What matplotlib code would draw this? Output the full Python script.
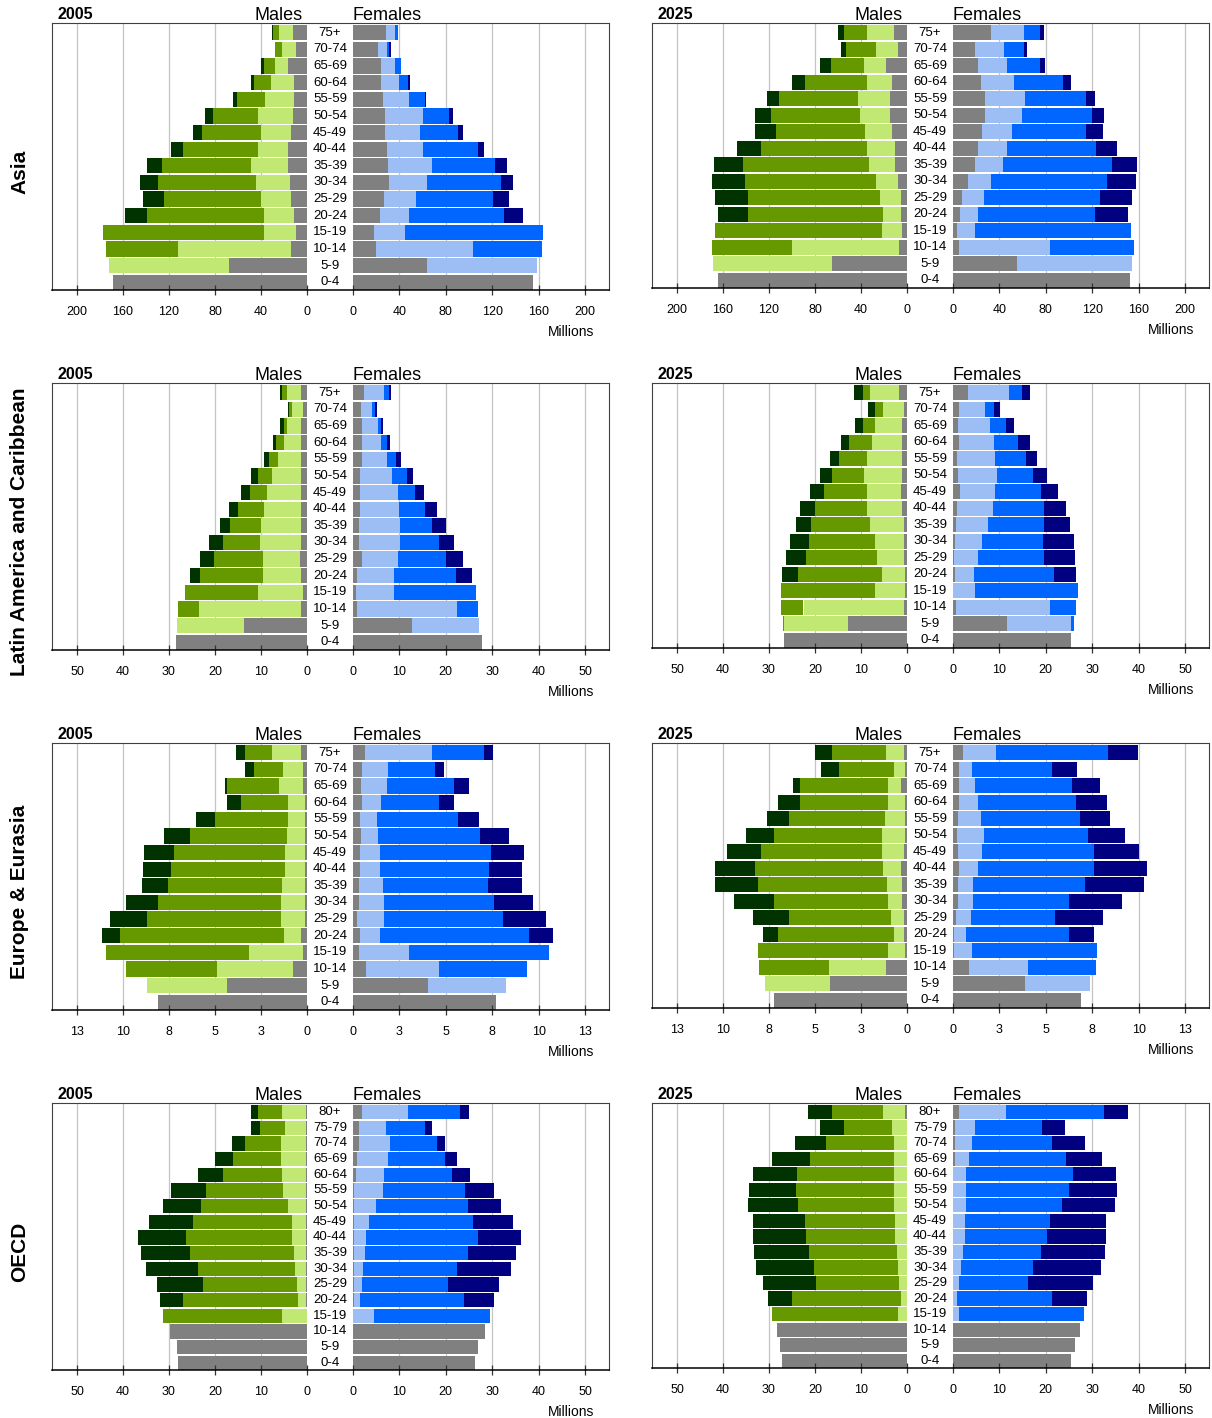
import numpy as np
import matplotlib.pyplot as plt
import matplotlib.transforms as mtransforms

plt.rcParams['font.family'] = ['Liberation Sans', 'DejaVu Sans']

# age groups, oldest at the top
ages = ['75+', '70-74', '65-69', '60-64', '55-59', '50-54', '45-49', '40-44',
        '35-39', '30-34', '25-29', '20-24', '15-19', '10-14', '5-9', '0-4']
ages_oecd = ['80+'] + ['75-79'] + ages[1:]

# grey / light / medium / dark, from the centre outward
male_colors = ['#808080', '#c0e873', '#669900', '#003300']
female_colors = ['#808080', '#9dbef5', '#0066ff', '#000080']

# running totals (millions) for each age group, innermost segment first
asia05_m = [(12.4, 24.5, 29.7, 30.3), (9.6, 21.7, 27.9), (16.7, 27.9, 37.5, 39.9),
            (11.5, 31.3, 46.1, 48.6), (11.5, 36.5, 60.7, 64.4), (12.4, 42.7, 81.7, 88.5),
            (13.9, 39.9, 91.0, 99.1), (16.7, 42.7, 107.7, 118.0), (16.7, 48.6, 125.7, 138.7),
            (14.9, 44.3, 129.4, 144.9), (13.9, 39.9, 124.1, 142.4), (11.5, 37.5, 138.7, 157.9),
            (9.6, 37.5, 177.1), (13.9, 112.1, 175.2), (67.8, 171.8), (169.0,)]
asia05_f = [(28.7, 36.4, 38.9), (21.6, 29.6, 30.9, 32.7), (24.4, 36.4, 41.7),
            (24.4, 39.8, 47.5, 49.4), (25.9, 48.5, 61.7, 63.3), (27.8, 60.5, 83.0, 85.8),
            (27.8, 58.0, 90.1, 94.4), (29.6, 60.5, 107.4, 113.3), (30.2, 68.5, 122.8, 132.4),
            (31.2, 64.2, 127.2, 137.7), (26.9, 54.6, 120.4, 134.9), (23.5, 48.5, 130.6, 146.3),
            (18.2, 45.1, 163.6), (20.1, 103.1, 162.7), (64.2, 158.3), (155.6,)]
asia25_m = [(11.2, 34.8, 54.7, 59.6), (7.8, 26.7, 52.8, 57.1), (18.3, 37.3, 65.8, 75.5),
            (13.0, 34.8, 89.1, 99.7), (14.6, 42.5, 110.9, 122.0), (14.6, 40.7, 118.6, 132.6),
            (13.0, 36.3, 114.3, 132.6), (10.2, 34.8, 127.3, 148.1), (10.2, 32.9, 142.9, 168.0),
            (7.8, 26.7, 141.3, 169.9), (5.3, 23.3, 138.5, 167.1), (5.3, 20.8, 138.5, 164.6),
            (4.3, 21.7, 167.1), (6.8, 99.7, 169.9), (64.9, 168.9), (164.6,)]
asia25_f = [(32.9, 61.4, 75.3, 78.8), (19.2, 44.0, 61.4, 64.2), (21.7, 46.8, 75.3, 79.7),
            (24.2, 52.7, 95.2, 102.0), (27.6, 62.3, 115.0, 122.8), (27.6, 59.8, 119.4, 129.9),
            (25.1, 51.2, 115.0, 129.0), (21.7, 46.8, 123.7, 141.1), (19.2, 43.4, 136.7, 158.4),
            (13.0, 32.9, 132.4, 157.5), (7.8, 27.0, 127.1, 154.1), (6.2, 21.7, 122.8, 150.7),
            (3.4, 19.2, 153.2), (5.3, 84.0, 155.7), (55.5, 154.1), (152.2,)]

lac05_m = [(1.3, 4.3, 5.4, 5.9), (0.9, 3.3, 3.9, 4.2), (1.3, 4.3, 5.0, 5.9),
           (1.3, 5.0, 6.7, 7.4), (1.3, 6.3, 8.3, 9.4), (1.3, 7.6, 10.7, 12.2),
           (1.3, 8.7, 12.4, 14.3), (1.3, 9.4, 15.0, 17.0), (1.3, 10.0, 16.7, 18.9),
           (1.3, 10.2, 18.3, 21.3), (1.5, 9.6, 20.2, 23.2), (1.3, 9.6, 23.2, 25.4),
           (0.9, 10.7, 26.5), (1.3, 23.5, 28.0), (13.7, 28.2), (28.4,)]
lac05_f = [(2.4, 6.7, 7.8, 8.2), (1.8, 4.2, 4.8, 5.2), (2.0, 5.4, 6.1, 6.5),
           (2.0, 6.1, 7.4, 8.0), (2.0, 7.4, 9.3, 10.4), (1.5, 8.5, 11.7, 12.9),
           (1.5, 9.7, 13.4, 15.3), (1.5, 9.9, 15.6, 18.0), (1.3, 10.2, 17.1, 20.1),
           (1.3, 10.2, 18.6, 21.8), (2.0, 9.7, 20.1, 23.7), (0.9, 8.9, 22.3, 25.7),
           (0.7, 8.9, 26.6), (0.9, 22.5, 27.0), (12.8, 27.2), (27.7,)]
lac25_m = [(1.7, 8.0, 9.5, 11.5), (0.6, 5.2, 6.9, 8.4), (1.1, 6.9, 9.5, 11.2),
           (1.1, 7.6, 12.6, 14.3), (1.1, 8.7, 14.7, 16.7), (1.1, 9.3, 16.4, 19.0),
           (1.3, 8.7, 18.1, 21.0), (1.1, 8.7, 20.1, 23.3), (0.6, 8.0, 20.8, 24.2),
           (0.6, 6.9, 21.4, 25.5), (0.6, 6.5, 21.9, 26.4), (0.5, 5.4, 23.6, 27.1),
           (0.5, 6.9, 27.4), (0.6, 22.5, 27.4), (12.8, 26.8, 27.0), (26.8,)]
lac25_f = [(3.3, 12.1, 14.8, 16.5), (1.3, 6.8, 8.9, 10.2), (1.1, 8.0, 11.5, 13.2),
           (1.3, 8.9, 14.1, 16.5), (0.9, 9.1, 15.8, 18.2), (1.1, 9.5, 17.2, 20.3),
           (1.6, 9.1, 18.9, 22.7), (0.9, 8.7, 19.7, 24.3), (0.7, 7.6, 19.7, 25.2),
           (0.5, 6.3, 19.5, 26.0), (0.2, 5.4, 19.7, 26.2), (0.5, 4.6, 21.7, 26.6),
           (0.0, 4.8, 26.9), (0.7, 21.0, 26.5), (11.7, 25.5, 26.0), (25.5,)]

eur05_m = [(0.33, 1.90, 3.37, 3.85), (0.23, 1.32, 2.88, 3.37), (0.23, 1.53, 4.33, 4.45),
           (0.12, 1.04, 3.58, 4.33), (0.12, 1.04, 4.99, 6.02), (0.12, 1.08, 6.34, 7.76),
           (0.12, 1.20, 7.21, 8.84), (0.12, 1.20, 7.37, 8.90), (0.12, 1.35, 7.54, 8.99),
           (0.12, 1.41, 8.09, 9.81), (0.12, 1.41, 8.67, 10.68), (0.33, 1.26, 10.19, 11.16),
           (0.23, 3.15, 10.95), (0.77, 4.87, 9.81), (4.33, 8.67), (8.09,)]
eur05_f = [(0.66, 4.28, 7.07, 7.55), (0.50, 1.89, 4.43, 4.91), (0.44, 1.85, 5.45, 6.26),
           (0.50, 1.52, 4.64, 5.45), (0.39, 1.31, 5.66, 6.80), (0.44, 1.35, 6.86, 8.42),
           (0.39, 1.46, 7.46, 9.23), (0.39, 1.46, 7.34, 9.13), (0.33, 1.62, 7.28, 9.08),
           (0.33, 1.68, 7.61, 9.71), (0.23, 1.68, 8.09, 10.42), (0.39, 1.46, 9.50, 10.79),
           (0.33, 3.02, 10.58), (0.71, 4.64, 9.40), (4.05, 8.27), (7.73,)]
eur25_m = [(0.16, 1.14, 4.05, 5.02), (0.12, 0.70, 3.72, 4.65), (0.33, 1.03, 5.83, 6.22),
           (0.12, 1.03, 5.83, 7.03), (0.12, 1.18, 6.43, 7.62), (0.12, 1.36, 7.25, 8.76),
           (0.16, 1.36, 7.95, 9.79), (0.33, 1.30, 8.28, 10.43), (0.27, 1.09, 8.10, 10.43),
           (0.27, 1.03, 7.25, 9.40), (0.16, 0.87, 6.43, 8.37), (0.16, 0.70, 7.03, 7.85),
           (0.12, 1.03, 8.10), (1.14, 4.22, 8.06), (4.17, 7.73), (7.25,)]
eur25_f = [(0.54, 2.33, 8.35, 9.98), (0.33, 1.03, 5.36, 6.66), (0.33, 1.20, 6.39, 7.92),
           (0.33, 1.36, 6.62, 8.29), (0.27, 1.51, 6.83, 8.45), (0.21, 1.69, 7.26, 9.26),
           (0.27, 1.57, 7.59, 10.02), (0.33, 1.36, 7.59, 10.47), (0.27, 1.09, 7.11, 10.29),
           (0.27, 1.09, 6.23, 9.11), (0.17, 0.97, 5.48, 8.08), (0.08, 0.70, 6.23, 7.59),
           (0.08, 1.03, 7.75), (0.87, 4.02, 7.69), (3.90, 7.38), (6.89,)]

oecd05_m = [(0.3, 5.4, 10.7, 12.2), (0.3, 4.8, 10.2, 12.2), (0.3, 5.6, 13.5, 16.3),
            (0.3, 5.6, 16.1, 20.0), (0.15, 5.4, 18.3, 23.8), (0.15, 5.3, 21.9, 29.5),
            (0.15, 4.2, 23.0, 31.4), (0.15, 3.3, 24.8, 34.3), (0.15, 3.3, 26.2, 36.7),
            (0.15, 2.9, 25.4, 36.0), (0.15, 2.6, 23.7, 34.9), (0.15, 2.2, 22.6, 32.7),
            (0.15, 2.0, 26.9, 31.9), (0.0, 5.4, 31.3), (29.7,), (28.2,), (28.0,)]
oecd05_f = [(2.0, 11.9, 23.1, 25.0), (1.3, 7.2, 15.6, 17.1), (1.3, 8.0, 18.0, 19.9),
            (0.9, 7.6, 19.9, 22.5), (0.7, 6.7, 21.4, 25.3), (0.2, 6.5, 24.2, 30.4),
            (0.2, 5.0, 24.7, 32.0), (0.2, 3.5, 25.9, 34.5), (0.2, 2.9, 27.0, 36.3),
            (0.2, 2.6, 24.8, 35.2), (0.2, 2.2, 22.5, 34.1), (0.2, 2.0, 20.5, 31.5),
            (0.2, 1.5, 24.0, 30.4), (0.0, 4.5, 29.6), (28.5,), (27.0,), (26.3,)]
oecd25_m = [(0.5, 5.2, 16.4, 21.6), (0.0, 3.3, 13.6, 19.0), (0.0, 2.8, 17.5, 24.4),
            (0.0, 2.8, 21.0, 29.4), (0.0, 2.8, 24.0, 33.5), (0.0, 2.8, 24.2, 34.4),
            (0.0, 2.8, 23.6, 34.6), (0.0, 2.6, 22.2, 33.5), (0.0, 2.6, 21.9, 33.5),
            (0.0, 2.2, 21.4, 33.3), (0.0, 1.9, 20.3, 32.9), (0.0, 1.7, 19.7, 31.4),
            (0.0, 1.3, 24.9, 30.3), (0.0, 1.9, 29.4), (28.3,), (27.7,), (27.1,)]
oecd25_f = [(1.3, 11.5, 32.5, 37.7), (0.5, 4.8, 19.1, 24.1), (0.5, 4.1, 21.3, 28.4),
            (0.5, 3.5, 24.3, 32.1), (0.0, 2.8, 25.8, 35.1), (0.0, 2.8, 24.9, 35.3),
            (0.0, 2.8, 23.4, 34.9), (0.0, 2.6, 21.0, 32.9), (0.0, 2.6, 20.2, 32.9),
            (0.0, 2.2, 18.9, 32.7), (0.0, 1.7, 17.2, 31.8), (0.0, 1.3, 16.1, 30.1),
            (0.0, 0.9, 21.4, 28.8), (0.0, 1.3, 28.2), (27.3,), (26.2,), (25.5,)]

regions = ['Asia', 'Latin America and Caribbean', 'Europe & Eurasia', 'OECD']
years = ['2005', '2025']
tick_steps = [40, 10, 2.5, 10]
region_ages = [ages, ages, ages, ages_oecd]
panels = [
    [(asia05_m, asia05_f), (asia25_m, asia25_f)],
    [(lac05_m, lac05_f), (lac25_m, lac25_f)],
    [(eur05_m, eur05_f), (eur25_m, eur25_f)],
    [(oecd05_m, oecd05_f), (oecd25_m, oecd25_f)],
]

W, H = 1212, 1418
fig = plt.figure(figsize=(W / 100, H / 100), dpi=100)


def box(x0, y0, x1, y1):
    # pixel rectangle (origin top-left) -> figure fraction
    return [x0 / W, 1 - y1 / H, (x1 - x0) / W, (y1 - y0) / H]


def draw_half(ax, rows, colors, step, span, flip):
    n = len(rows)
    for i, row in enumerate(rows):
        y = n - 1 - i
        left = 0
        for total, col in zip(row, colors):
            if total > left:
                ax.barh(y, total - left, left=left, height=0.92, color=col, lw=0)
            left = total
    ticks = np.arange(0, step * 5 + 0.01, step)
    for t in ticks[1:]:
        ax.axvline(t, color='#c4c4c4', lw=0.9, zorder=0)
    ax.set_xlim((span, 0) if flip else (0, span))
    ax.set_ylim(-0.46, n - 0.42)
    ax.set_xticks(ticks)
    ax.set_xticklabels([str(int(t + 0.5)) for t in ticks])
    ax.tick_params(axis='x', direction='inout', length=7, width=0.9,
                   color='#333333', pad=8, labelsize=9)
    ax.set_yticks([])
    for s in ax.spines.values():
        s.set_visible(False)
    ax.patch.set_alpha(0)


for r, region in enumerate(regions):
    step = tick_steps[r]
    top = 23 + 360 * r
    fig.text(20 / W, 1 - (172 + 360 * r) / H, region, rotation=90,
             ha='center', va='center', fontsize=15, fontweight='bold')
    for c, year in enumerate(years):
        x0 = 52 + 600 * c
        bot = top + (267 if c == 0 else 265)
        males, females = panels[r][c]

        ax_m = fig.add_axes(box(x0, top, x0 + 255, bot))
        draw_half(ax_m, males, male_colors, step, step * 5 * 255 / 230, True)
        ax_f = fig.add_axes(box(x0 + 301, top, x0 + 557, bot))
        draw_half(ax_f, females, female_colors, step, step * 5 * 256 / 232, False)

        # age labels in the gap between the halves
        trans = mtransforms.blended_transform_factory(ax_m.transAxes, ax_m.transData)
        n = len(region_ages[r])
        for i, lab in enumerate(region_ages[r]):
            ax_m.text(1 + 23 / 255, n - 1 - i, lab, transform=trans, ha='center',
                      va='center', fontsize=9.5, clip_on=False)

        frame = fig.add_axes(box(x0, top, x0 + 557, bot))
        frame.set_xticks([])
        frame.set_yticks([])
        frame.patch.set_alpha(0)
        for side in ('top', 'left', 'right'):
            frame.spines[side].set_color('#404040')
            frame.spines[side].set_linewidth(0.8)
        frame.spines['bottom'].set_color('black')
        frame.spines['bottom'].set_linewidth(1.1)

        fig.text((x0 + 5) / W, 1 - (top - 4) / H, year, ha='left', va='baseline',
                 fontsize=11.5, fontweight='bold')
        fig.text((x0 + 251) / W, 1 - (top - 2.5) / H, 'Males', ha='right',
                 va='baseline', fontsize=13)
        fig.text((x0 + 301) / W, 1 - (top - 2.5) / H, 'Females', ha='left',
                 va='baseline', fontsize=13)
        fig.text((x0 + 542) / W, 1 - (bot + 46) / H, 'Millions', ha='right',
                 va='baseline', fontsize=10)

fig.savefig('out.png', dpi=100)
